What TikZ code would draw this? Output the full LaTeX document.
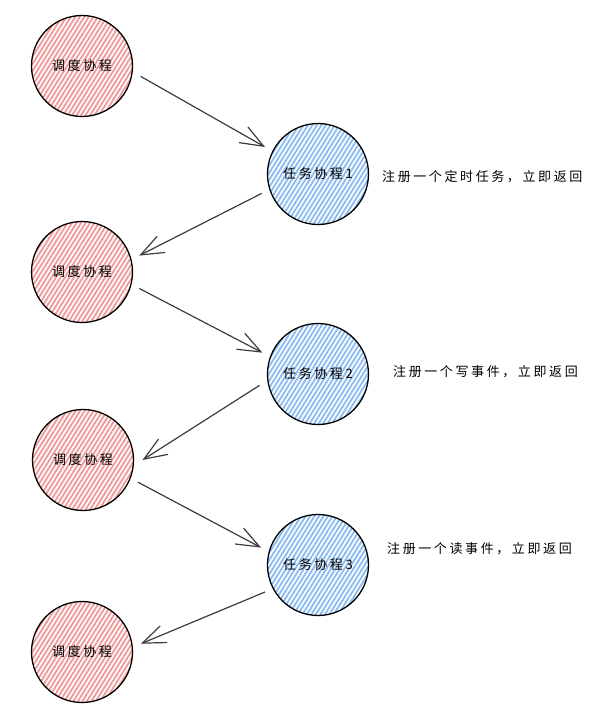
\documentclass[tikz,border=0pt]{standalone}
\usepackage{fontspec}
\newfontfamily\cjk[LetterSpace=20]{Noto Sans CJK SC}
\usetikzlibrary{arrows.meta,patterns.meta}
\definecolor{pinkh}{RGB}{240,155,155}
\definecolor{blueh}{RGB}{140,188,240}
\definecolor{arrowc}{RGB}{60,60,60}
\tikzset{
  sched/.style={circle, draw=black, line width=1.3pt, minimum size=101pt, inner sep=0pt, outer sep=9pt,
    pattern={Lines[angle=58,distance=3.8pt,line width=1.9pt]}, pattern color=pinkh,
    font=\cjk\fontsize{13pt}{15pt}\selectfont},
  task/.style={sched, pattern color=blueh},
  note/.style={anchor=west, inner sep=0pt, font=\cjk\fontsize{13pt}{15pt}\selectfont},
  flow/.style={draw=arrowc, line width=1.2pt, -{Straight Barb[length=23pt,width=18pt,line width=1.2pt]}}
}
\begin{document}
\begin{tikzpicture}[x=1pt,y=-1pt]
\useasboundingbox (0,0) rectangle (600,704);
\node[sched] (r1) at (82,66) {调度协程};
\node[task]  (b1) at (318,174) {任务协程1};
\node[sched] (r2) at (82,272) {调度协程};
\node[task]  (b2) at (318,374) {任务协程2};
\node[sched] (r3) at (83,460) {调度协程};
\node[task]  (b3) at (318,565) {任务协程3};
\node[sched] (r4) at (82,652) {调度协程};
\node[note] (n1) at (382,177) {注册一个定时任务，立即返回};
\node[note] (n2) at (393,372) {注册一个写事件，立即返回};
\node[note] (n3) at (387,549) {注册一个读事件，立即返回};
\draw[flow] (r1.-10) -- (b1.153);
\draw[flow] (b1.199) -- (r2.16);
\draw[flow] (r2.-16) -- (b2.159);
\draw[flow] (b2.191) -- (r3.0);
\draw[flow] (r3.-22) -- (b3.163);
\draw[flow] (b3.207) -- (r4.8);
\end{tikzpicture}
\end{document}
